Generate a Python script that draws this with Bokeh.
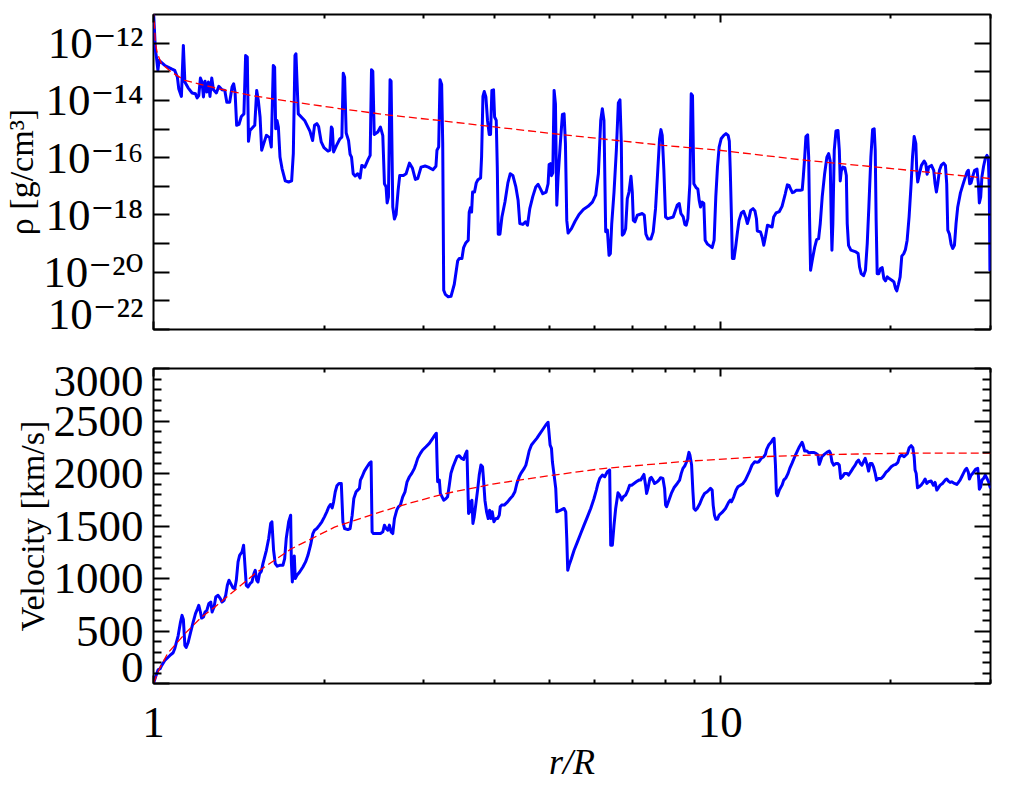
import math
from bokeh.plotting import figure
from bokeh.layouts import column
from bokeh.models import FixedTicker, LogAxis, LinearAxis, Range1d
from bokeh.embed import file_html
from bokeh.resources import INLINE

FONT = "Liberation Serif, DejaVu Serif"
TICK_FS = "45px"
YTITLE_FS = "34px"
XTITLE_FS = "36px"
FRAME_H = 315  # frame height in px (style)

# ---------------- data: density panel (r in R*, log10 rho in g/cm^3) ----------------
r_den = [
    1.000, 1.004, 1.008, 1.012, 1.018, 1.023, 1.047, 1.076, 1.090, 1.102,
    1.108, 1.120, 1.129, 1.136, 1.151, 1.170, 1.186, 1.194, 1.202, 1.210,
    1.218, 1.225, 1.233, 1.242, 1.250, 1.258, 1.267, 1.276, 1.291, 1.304,
    1.321, 1.336, 1.347, 1.363, 1.376, 1.385, 1.393, 1.402, 1.415, 1.429,
    1.444, 1.454, 1.464, 1.471, 1.480, 1.499, 1.509, 1.521, 1.531, 1.542,
    1.552, 1.565, 1.582, 1.603, 1.614, 1.627, 1.636, 1.643, 1.652, 1.661,
    1.672, 1.686, 1.708, 1.732, 1.753, 1.765, 1.777, 1.784, 1.801, 1.848,
    1.888, 1.909, 1.924, 1.942, 1.956, 1.977, 1.999, 2.032, 2.048, 2.060,
    2.068, 2.079, 2.104, 2.133, 2.150, 2.162, 2.174, 2.188, 2.209, 2.223,
    2.236, 2.251, 2.269, 2.293, 2.315, 2.331, 2.360, 2.392, 2.412, 2.425,
    2.438, 2.452, 2.488, 2.515, 2.539, 2.556, 2.573, 2.584, 2.598, 2.615,
    2.626, 2.644, 2.662, 2.680, 2.702, 2.720, 2.761, 2.791, 2.829, 2.863,
    2.898, 2.926, 2.966, 3.015, 3.055, 3.113, 3.151, 3.164, 3.186, 3.204,
    3.225, 3.239, 3.252, 3.273, 3.313, 3.350, 3.395, 3.442, 3.465, 3.502,
    3.526, 3.559, 3.593, 3.607, 3.627, 3.642, 3.657, 3.686, 3.712, 3.737,
    3.778, 3.793, 3.814, 3.834, 3.860, 3.886, 3.913, 3.934, 3.955, 3.982,
    3.999, 4.026, 4.043, 4.059, 4.087, 4.120, 4.171, 4.221, 4.262, 4.307,
    4.360, 4.400, 4.431, 4.485, 4.534, 4.571, 4.614, 4.671, 4.728, 4.773,
    4.818, 4.864, 4.930, 4.970, 4.991, 5.018, 5.039, 5.066, 5.093, 5.121,
    5.149, 5.176, 5.218, 5.268, 5.304, 5.333, 5.362, 5.391, 5.465, 5.546,
    5.636, 5.736, 5.847, 5.950, 6.031, 6.097, 6.155, 6.196, 6.237, 6.281,
    6.324, 6.367, 6.401, 6.437, 6.497, 6.559, 6.612, 6.656, 6.693, 6.719,
    6.765, 6.811, 6.857, 6.905, 6.961, 6.998, 7.027, 7.075, 7.142, 7.288,
    7.347, 7.396, 7.458, 7.548, 7.619, 7.691, 7.755, 7.818, 7.861, 7.903,
    7.956, 8.011, 8.087, 8.264, 8.399, 8.469, 8.526, 8.607, 8.665, 8.713,
    8.770, 8.842, 8.891, 8.938, 8.987, 9.072, 9.133, 9.184, 9.233, 9.297,
    9.359, 9.409, 9.500, 9.681, 9.759, 9.825, 9.892, 9.959, 10.04, 10.15,
    10.24, 10.33, 10.38, 10.42, 10.47, 10.51, 10.58, 10.65, 10.73, 10.80,
    10.90, 11.00, 11.10, 11.17, 11.25, 11.32, 11.43, 11.52, 11.59, 11.63,
    11.78, 11.86, 11.94, 12.02, 12.12, 12.35, 12.43, 12.55, 12.72, 12.86,
    13.03, 13.14, 13.23, 13.32, 13.41, 13.50, 13.61, 13.85, 13.96, 14.02,
    14.10, 14.17, 14.27, 14.33, 14.38, 14.44, 14.54, 14.68, 14.80, 14.92,
    15.02, 15.14, 15.29, 15.43, 15.54, 15.64, 15.71, 15.75, 15.81, 15.90,
    16.01, 16.14, 16.23, 16.29, 16.36, 16.47, 16.60, 16.70, 16.76, 16.85,
    17.01, 17.31, 17.52, 17.62, 17.74, 17.91, 18.05, 18.18, 18.30, 18.45,
    18.58, 18.70, 18.78, 18.85, 18.93, 19.05, 19.19, 19.32, 19.45, 19.58,
    19.72, 19.88, 20.09, 20.26, 20.40, 20.50, 20.64, 20.78, 20.92, 21.09,
    21.23, 21.38, 21.55, 21.73, 21.85, 22.00, 22.15, 22.23, 22.32, 22.48,
    22.66, 22.91, 23.06, 23.19, 23.34, 23.60, 23.82, 23.95, 24.08, 24.21,
    24.38, 24.57, 24.80, 24.98, 25.11, 25.22, 25.39, 25.56, 25.73, 25.91,
    26.08, 26.26, 26.55, 26.83, 27.09, 27.27, 27.42, 27.57, 27.72, 27.91,
    28.13, 28.40, 28.56, 28.67, 28.83, 28.97, 29.17, 29.37, 29.57, 29.73,
    29.85, 29.93, 30.00,
]
log_rho = [
    -10.90, -11.56, -12.26, -12.49, -12.95, -12.60, -12.78, -12.90, -12.95, -13.19,
    -13.59, -13.86, -12.08, -13.36, -13.56, -13.74, -13.77, -13.91, -13.83, -13.22,
    -13.36, -13.88, -13.33, -13.71, -13.36, -13.86, -13.22, -13.63, -13.74, -13.51,
    -13.63, -13.65, -14.06, -14.06, -13.53, -13.42, -13.71, -14.87, -14.84, -14.56,
    -14.47, -12.43, -12.49, -15.43, -15.05, -14.93, -14.87, -13.65, -14.00, -14.58,
    -15.74, -15.51, -15.22, -15.30, -15.63, -12.78, -12.84, -14.99, -14.70, -14.93,
    -15.98, -16.38, -16.81, -16.85, -16.81, -15.86, -12.43, -12.37, -14.47, -14.70,
    -15.07, -15.40, -14.87, -14.81, -14.91, -15.45, -15.65, -15.77, -15.74, -14.93,
    -14.99, -15.80, -15.57, -15.34, -15.28, -13.05, -13.19, -15.14, -15.40, -15.88,
    -15.98, -16.56, -16.64, -16.56, -16.71, -16.27, -16.33, -16.06, -15.92, -12.93,
    -12.98, -15.19, -15.10, -14.93, -15.23, -16.91, -17.02, -17.58, -17.37, -13.28,
    -13.33, -17.72, -18.14, -17.98, -17.14, -16.62, -16.62, -16.56, -16.19, -16.36,
    -16.76, -16.73, -16.33, -16.29, -16.33, -16.42, -16.30, -15.74, -15.63, -13.28,
    -13.44, -15.51, -20.63, -20.77, -20.86, -20.84, -20.42, -19.60, -19.52, -19.52,
    -19.14, -18.97, -18.88, -17.90, -17.74, -17.90, -17.20, -17.20, -16.88, -16.77,
    -16.71, -15.98, -13.86, -13.69, -13.88, -14.70, -15.19, -15.19, -13.65, -13.63,
    -14.58, -14.70, -16.33, -18.67, -18.67, -18.07, -17.55, -16.88, -16.56, -16.62,
    -17.02, -17.49, -18.30, -18.33, -18.24, -18.36, -17.78, -17.35, -17.02, -16.93,
    -17.09, -17.26, -17.20, -16.91, -16.24, -16.21, -16.63, -16.53, -13.65, -14.12,
    -17.66, -16.67, -15.63, -14.49, -14.47, -15.51, -18.19, -18.63, -18.48, -18.22,
    -17.98, -17.81, -17.70, -17.55, -17.31, -16.56, -14.70, -14.29, -14.70, -18.59,
    -18.53, -19.41, -19.35, -18.30, -17.20, -15.74, -14.09, -13.98, -15.51, -18.71,
    -18.65, -18.48, -17.43, -17.20, -16.65, -17.20, -18.19, -18.24, -18.01, -17.95,
    -18.01, -18.67, -18.84, -18.84, -18.59, -17.78, -16.56, -15.34, -15.02, -15.22,
    -16.44, -18.07, -18.13, -18.07, -17.66, -17.60, -17.95, -18.07, -18.33, -18.36,
    -18.13, -16.91, -13.77, -13.83, -16.91, -17.05, -17.09, -17.49, -17.72, -17.55,
    -17.60, -18.88, -19.02, -19.14, -18.88, -17.37, -16.33, -15.63, -15.34, -15.22,
    -15.16, -15.22, -15.42, -16.44, -18.07, -19.52, -19.52, -19.12, -18.59, -18.19,
    -17.93, -17.87, -18.09, -18.30, -18.09, -17.84, -17.78, -17.86, -18.13, -18.56,
    -18.59, -18.77, -19.06, -18.77, -18.36, -18.42, -18.07, -17.93, -17.88, -17.70,
    -17.26, -16.95, -16.97, -17.10, -17.22, -17.20, -17.14, -17.14, -17.12, -16.67,
    -15.98, -15.26, -15.20, -15.98, -18.07, -19.93, -19.58, -19.14, -18.86, -18.83,
    -18.30, -17.37, -16.56, -15.98, -15.86, -16.12, -18.30, -19.23, -18.30, -15.74,
    -15.07, -15.05, -15.74, -16.81, -16.47, -16.33, -16.35, -16.62, -18.30, -19.06,
    -19.23, -19.28, -19.35, -19.81, -20.05, -20.12, -19.93, -19.00, -17.72, -15.98,
    -15.02, -14.99, -15.74, -18.19, -20.05, -20.05, -19.87, -19.84, -20.22, -20.30,
    -20.16, -20.22, -20.28, -20.34, -20.57, -20.65, -20.42, -20.16, -19.44, -19.35,
    -19.21, -18.88, -18.07, -16.91, -15.98, -15.26, -15.51, -16.42, -16.85, -16.56,
    -16.27, -16.12, -16.21, -16.58, -16.33, -16.27, -16.44, -16.91, -17.20, -16.91,
    -16.44, -16.26, -16.19, -16.27, -16.91, -18.53, -18.67, -19.02, -19.17, -19.06,
    -18.30, -17.72, -17.23, -16.93, -16.67, -16.50, -16.44, -16.91, -16.88, -16.65,
    -16.44, -16.40, -16.91, -17.58, -17.37, -16.67, -16.30, -16.03, -15.92, -16.00,
    -17.02, -19.93, -19.95,
]
# smooth model (red dashed)
r_den_model = [1.0, 1.008, 1.016, 1.033, 1.076, 1.136, 1.300, 1.488, 1.774, 2.173,
               2.624, 3.194, 3.78, 5.23, 6.58, 7.95, 9.96, 14.13, 20.1, 30.0]
log_rho_model = [-10.8, -12.02, -12.37, -12.72, -13.01, -13.30, -13.59, -13.83, -14.06, -14.31,
                 -14.52, -14.70, -14.87, -15.19, -15.40, -15.57, -15.74, -16.09, -16.38, -16.73]

# ---------------- data: velocity panel (km/s) ----------------
r_vel = [
    1.000, 1.008, 1.019, 1.027, 1.034, 1.047, 1.069, 1.083, 1.090, 1.105,
    1.116, 1.123, 1.129, 1.136, 1.142, 1.151, 1.163, 1.175, 1.186, 1.196,
    1.202, 1.210, 1.216, 1.225, 1.233, 1.242, 1.252, 1.262, 1.269, 1.279,
    1.288, 1.300, 1.312, 1.321, 1.332, 1.341, 1.350, 1.359, 1.369, 1.381,
    1.391, 1.400, 1.410, 1.419, 1.433, 1.442, 1.450, 1.458, 1.468, 1.480,
    1.492, 1.504, 1.512, 1.521, 1.529, 1.539, 1.550, 1.560, 1.582, 1.597,
    1.610, 1.618, 1.629, 1.640, 1.654, 1.670, 1.692, 1.704, 1.715, 1.732,
    1.746, 1.751, 1.758, 1.765, 1.772, 1.779, 1.791, 1.811, 1.835, 1.855,
    1.873, 1.893, 1.911, 1.924, 1.942, 1.963, 1.982, 2.003, 2.022, 2.039,
    2.053, 2.067, 2.079, 2.093, 2.107, 2.125, 2.145, 2.159, 2.174, 2.203,
    2.223, 2.242, 2.257, 2.278, 2.293, 2.309, 2.318, 2.334, 2.356, 2.382,
    2.404, 2.421, 2.431, 2.444, 2.481, 2.515, 2.539, 2.556, 2.573, 2.591,
    2.608, 2.626, 2.644, 2.662, 2.687, 2.705, 2.727, 2.753, 2.779, 2.802,
    2.829, 2.856, 2.887, 2.907, 2.926, 2.958, 2.985, 3.026, 3.067, 3.110,
    3.139, 3.156, 3.164, 3.173, 3.195, 3.208, 3.252, 3.283, 3.304, 3.327,
    3.349, 3.377, 3.404, 3.432, 3.465, 3.498, 3.526, 3.550, 3.574, 3.584,
    3.598, 3.618, 3.633, 3.647, 3.662, 3.681, 3.707, 3.732, 3.757, 3.783,
    3.808, 3.824, 3.845, 3.871, 3.897, 3.919, 3.940, 3.961, 3.988, 4.021,
    4.048, 4.076, 4.092, 4.115, 4.159, 4.216, 4.262, 4.302, 4.343, 4.378,
    4.420, 4.450, 4.510, 4.541, 4.571, 4.602, 4.645, 4.696, 4.747, 4.792,
    4.857, 4.924, 4.970, 5.011, 5.039, 5.058, 5.093, 5.127, 5.149, 5.232,
    5.304, 5.340, 5.362, 5.383, 5.413, 5.465, 5.524, 5.600, 5.675, 5.752,
    5.831, 5.910, 5.990, 6.047, 6.088, 6.130, 6.196, 6.255, 6.324, 6.383,
    6.410, 6.453, 6.497, 6.541, 6.603, 6.648, 6.703, 6.748, 6.811, 6.876,
    6.923, 6.979, 7.046, 7.112, 7.190, 7.238, 7.337, 7.386, 7.417, 7.458,
    7.518, 7.558, 7.611, 7.662, 7.745, 7.797, 7.851, 7.925, 7.979, 8.012,
    8.044, 8.121, 8.200, 8.289, 8.401, 8.481, 8.539, 8.597, 8.666, 8.749,
    8.809, 8.844, 8.905, 8.953, 8.990, 9.049, 9.110, 9.211, 9.298, 9.386,
    9.488, 9.616, 9.681, 9.721, 9.772, 9.826, 9.893, 9.959, 10.08, 10.22,
    10.36, 10.42, 10.47, 10.57, 10.67, 10.75, 10.86, 10.96, 11.08, 11.15,
    11.26, 11.38, 11.51, 11.62, 11.70, 11.82, 11.94, 12.02, 12.07, 12.18,
    12.30, 12.40, 12.45, 12.52, 12.57, 12.62, 12.72, 12.86, 12.95, 13.07,
    13.18, 13.27, 13.39, 13.54, 13.67, 13.80, 13.95, 14.00, 14.10, 14.23,
    14.33, 14.48, 14.62, 14.76, 14.88, 14.96, 15.02, 15.12, 15.27, 15.43,
    15.58, 15.66, 15.75, 15.86, 16.01, 16.12, 16.23, 16.32, 16.44, 16.58,
    16.74, 16.85, 17.01, 17.15, 17.31, 17.43, 17.55, 17.67, 17.79, 17.91,
    18.03, 18.18, 18.28, 18.40, 18.53, 18.65, 18.78, 18.88, 19.03, 19.24,
    19.42, 19.61, 19.82, 20.04, 20.23, 20.42, 20.59, 20.73, 20.92, 21.12,
    21.27, 21.41, 21.56, 21.73, 21.88, 22.00, 22.08, 22.18, 22.30, 22.45,
    22.63, 22.85, 23.00, 23.16, 23.32, 23.57, 23.79, 23.95, 24.12, 24.28,
    24.45, 24.68, 24.95, 25.11, 25.28, 25.46, 25.63, 25.91, 26.15, 26.33,
    26.51, 26.69, 26.87, 27.05, 27.23, 27.42, 27.53, 27.72, 27.91, 28.09,
    28.25, 28.48, 28.59, 28.67, 28.83, 28.97, 29.17, 29.37, 29.57, 29.77,
    29.90, 30.00,
]
vel = [
    0, 60, 130, 140, 172, 219, 267, 293, 331, 452,
    585, 649, 611, 363, 344, 388, 490, 585, 665, 713,
    744, 681, 623, 633, 681, 697, 760, 776, 681, 728,
    824, 840, 808, 776, 792, 840, 935, 983, 951, 910,
    903, 983, 1158, 1221, 1253, 1317, 1126, 935, 919, 951,
    967, 1047, 1078, 983, 967, 1047, 1069, 1142, 1269, 1381,
    1524, 1540, 1269, 1142, 1117, 1126, 1126, 1190, 1381, 1540,
    1603, 1158, 967, 1126, 1215, 999, 1031, 1062, 1110, 1158,
    1221, 1317, 1428, 1460, 1476, 1508, 1540, 1587, 1635, 1683,
    1705, 1673, 1730, 1826, 1883, 1905, 1905, 1540, 1476, 1466,
    1476, 1603, 1762, 1826, 1842, 1858, 1937, 1969, 2023, 2064,
    2096, 2112, 1444, 1428, 1428, 1428, 1444, 1508, 1476, 1460,
    1508, 1444, 1428, 1571, 1651, 1683, 1699, 1778, 1826, 1921,
    1969, 2001, 2049, 2096, 2144, 2192, 2224, 2255, 2287, 2335,
    2367, 2383, 2144, 1921, 1937, 1810, 1746, 1762, 1778, 1889,
    2001, 2064, 2112, 2160, 2169, 2144, 2134, 2182, 2214, 1953,
    1619, 1730, 1635, 1746, 1524, 1587, 1715, 1842, 1985, 2080,
    2064, 1937, 1746, 1635, 1571, 1651, 1571, 1635, 1540, 1571,
    1571, 1603, 1683, 1699, 1699, 1730, 1762, 1785, 1826, 1905,
    1969, 2001, 2049, 2080, 2144, 2214, 2271, 2303, 2335, 2367,
    2414, 2462, 2488, 2271, 2239, 2112, 1985, 1858, 1635, 1651,
    1667, 1635, 1381, 1078, 1126, 1190, 1269, 1349, 1428, 1508,
    1587, 1667, 1762, 1842, 1905, 1953, 1985, 1969, 2017, 2033,
    1317, 1317, 1508, 1667, 1816, 1794, 1746, 1778, 1794, 1842,
    1889, 1889, 1905, 1921, 1937, 1937, 1991, 1889, 1810, 1858,
    1953, 1963, 1937, 1905, 1921, 1937, 1960, 1953, 1858, 1699,
    1683, 1746, 1810, 1864, 1905, 1937, 2001, 2049, 2074, 2128,
    2201, 2176, 2080, 1826, 1667, 1651, 1667, 1715, 1769, 1810,
    1826, 1858, 1842, 1699, 1603, 1565, 1565, 1603, 1629, 1667,
    1730, 1746, 1730, 1778, 1842, 1874, 1889, 1902, 1937, 1969,
    2017, 2080, 2112, 2106, 2112, 2144, 2160, 2182, 2224, 2271,
    2297, 2329, 2335, 2080, 1810, 1788, 1842, 1889, 1937, 1960,
    2001, 2049, 2096, 2160, 2208, 2255, 2297, 2278, 2214, 2214,
    2198, 2201, 2201, 2192, 2176, 2087, 2112, 2160, 2182, 2201,
    2214, 2192, 2112, 2080, 2096, 2096, 2080, 1953, 1969, 2001,
    2001, 1985, 2017, 2049, 2080, 2112, 2128, 2096, 2080, 2112,
    2144, 2080, 2023, 2096, 2096, 2064, 2001, 1937, 1953, 1953,
    1975, 2010, 2033, 2064, 2080, 2087, 2106, 2160, 2176, 2160,
    2176, 2192, 2246, 2265, 2246, 2160, 2033, 2001, 1864, 1874,
    1889, 1921, 1947, 1905, 1921, 1928, 1889, 1915, 1842, 1864,
    1889, 1905, 1937, 1947, 1928, 1915, 1921, 1905, 1896, 1915,
    1937, 1969, 2001, 2033, 2049, 2010, 1947, 1985, 2001, 2023,
    2042, 2049, 1953, 1851, 1874, 1937, 1953, 1985, 1953, 1921,
    1883, 1858,
]
r_vel_model = [1.0, 1.02, 1.06, 1.143, 1.215, 1.282, 1.509, 1.751, 2.087, 2.454,
               2.735, 3.26, 3.994, 5.025, 6.155, 8.749, 12.11, 15.86, 20.78, 30.0]
vel_model = [0, 120, 290, 489, 632, 727, 1045, 1283, 1489, 1616,
             1695, 1807, 1902, 1981, 2045, 2117, 2162, 2181, 2193, 2195]

# ---------------- axes / ticks ----------------
r_range = (1.0, 30.0)
rho_range = (1e-22, 1e-11)
vel_range = (0.0, 3000.0)

r_major = [1, 10]
r_minor = [2, 3, 4, 5, 6, 7, 8, 9, 20, 30]
r_tick_labels = ["1", "10"]
rho_major = [1e-12, 1e-14, 1e-16, 1e-18, 1e-20, 1e-22]
rho_minor = [1e-13, 1e-15, 1e-17, 1e-19, 1e-21]
rho_tick_labels = ["10⁻¹²", "10⁻¹⁴", "10⁻¹⁶", "10⁻¹⁸", "10⁻²⁰", "10⁻²²"]
vel_major = [0, 500, 1000, 1500, 2000, 2500, 3000]
vel_minor = [v for v in range(100, 3000, 100) if v % 500]
vel_tick_labels = ["0", "500", "1000", "1500", "2000", "2500", "3000"]

rho_title = "ρ [g/cm³]"
vel_title = "Velocity [km/s]"
r_title = "r/R"

n1 = min(len(r_den), len(log_rho))
rho = [10 ** v for v in log_rho[:n1]]
rho_model = [10 ** v for v in log_rho_model]
n2 = min(len(r_vel), len(vel))

# label anchors: edge labels are nudged inside the frame (IDL style), in px
rho_decades = math.log10(rho_range[1] / rho_range[0])
rho_label_pos = rho_major[:-1] + [rho_major[-1] * 10 ** (16 * rho_decades / FRAME_H)]
vel_span = vel_range[1] - vel_range[0]
vel_label_pos = ([vel_major[0] + 16 * vel_span / FRAME_H] + vel_major[1:-1]
                 + [vel_major[-1] - 13 * vel_span / FRAME_H])


def style_axis(ax, major_in, minor_in, overrides=None, standoff=12, ticks=True):
    ax.axis_line_color = None
    ax.major_tick_in = major_in
    ax.major_tick_out = 0
    ax.minor_tick_in = minor_in
    ax.minor_tick_out = 0
    ax.major_tick_line_color = "black" if ticks else None
    ax.minor_tick_line_color = "black" if ticks else None
    ax.major_tick_line_width = 2
    ax.minor_tick_line_width = 2
    if overrides is None:
        ax.major_label_overrides = {t: "" for t in ax.ticker.ticks}
        ax.major_label_text_font_size = "0px"
        ax.major_label_standoff = 0
    else:
        ax.major_label_overrides = overrides
        ax.major_label_text_font = FONT
        ax.major_label_text_font_size = TICK_FS
        ax.major_label_text_color = "black"
        ax.major_label_standoff = standoff


def set_title(ax, text, size, style, standoff=0):
    ax.axis_label = text
    ax.axis_label_text_font = FONT
    ax.axis_label_text_font_size = size
    ax.axis_label_text_font_style = style
    ax.axis_label_text_color = "black"
    ax.axis_label_standoff = standoff


def base_fig(height, y_type, y_range, top, bottom):
    p = figure(width=1008, height=height, x_axis_type="log", y_axis_type=y_type,
               x_range=Range1d(*r_range), y_range=Range1d(*y_range),
               output_backend="svg", toolbar_location=None,
               min_border_left=152, min_border_right=18,
               min_border_top=top, min_border_bottom=bottom)
    p.xgrid.visible = False
    p.ygrid.visible = False
    p.outline_line_color = "black"
    p.outline_line_width = 2
    p.background_fill_color = "white"
    p.border_fill_color = "white"
    return p


def x_ticker():
    return FixedTicker(ticks=r_major, minor_ticks=r_minor)


# ---------------- top panel: density ----------------
p1 = base_fig(349, "log", rho_range, 14, 20)
p1.below[0].ticker = x_ticker()
style_axis(p1.below[0], 8, 4)
top_ax = LogAxis(ticker=x_ticker())
p1.add_layout(top_ax, "above")
style_axis(top_ax, 8, 4)

# inner left axis: ticks only
p1.left[0].ticker = FixedTicker(ticks=rho_major, minor_ticks=rho_minor)
style_axis(p1.left[0], 16, 16)
# outer left axis: labels + title
rho_lab_ax = LogAxis(ticker=FixedTicker(ticks=rho_label_pos))
p1.add_layout(rho_lab_ax, "left")
style_axis(rho_lab_ax, 0, 0, {t: lab for t, lab in zip(rho_label_pos, rho_tick_labels)},
           10, ticks=False)
set_title(rho_lab_ax, rho_title, YTITLE_FS, "normal")
right1 = LogAxis(ticker=FixedTicker(ticks=rho_major, minor_ticks=rho_minor))
p1.add_layout(right1, "right")
style_axis(right1, 16, 16)

p1.line(r_den[:n1], rho, line_color="#0000ff", line_width=3, line_join="round")
p1.line(r_den_model, rho_model, line_color="#ff0000", line_width=1.3, line_dash="8 4")

# ---------------- bottom panel: velocity ----------------
p2 = base_fig(437, "linear", vel_range, 19, 103)
r_over = {t: lab for t, lab in zip(r_major, r_tick_labels)}
p2.below[0].ticker = x_ticker()
style_axis(p2.below[0], 8, 4, r_over, 24)
set_title(p2.below[0], r_title, XTITLE_FS, "italic", 2)
top_ax2 = LogAxis(ticker=x_ticker())
p2.add_layout(top_ax2, "above")
style_axis(top_ax2, 8, 4)

p2.left[0].ticker = FixedTicker(ticks=vel_major, minor_ticks=vel_minor)
style_axis(p2.left[0], 16, 8)
vel_lab_ax = LinearAxis(ticker=FixedTicker(ticks=vel_label_pos))
p2.add_layout(vel_lab_ax, "left")
style_axis(vel_lab_ax, 0, 0, {t: lab for t, lab in zip(vel_label_pos, vel_tick_labels)},
           10, ticks=False)
set_title(vel_lab_ax, vel_title, YTITLE_FS, "normal")
right2 = LinearAxis(ticker=FixedTicker(ticks=vel_major, minor_ticks=vel_minor))
p2.add_layout(right2, "right")
style_axis(right2, 16, 8)

p2.line(r_vel[:n2], vel[:n2], line_color="#0000ff", line_width=3, line_join="round")
p2.line(r_vel_model, vel_model, line_color="#ff0000", line_width=1.3, line_dash="8 4")

layout = column(p1, p2)
open("out.html", "w").write(file_html(layout, INLINE))
